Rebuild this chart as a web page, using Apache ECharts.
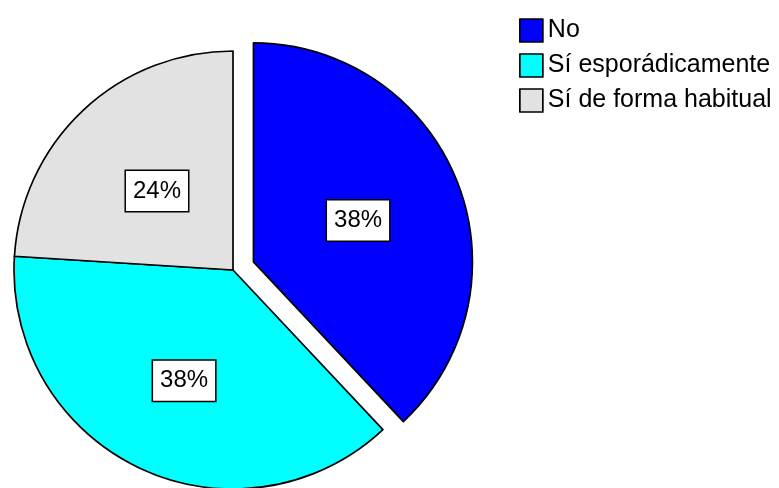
<!DOCTYPE html>
<html>
<head>
<meta charset="utf-8">
<script src="https://cdn.jsdelivr.net/npm/echarts@6/dist/echarts.min.js"></script>
<style>
  html, body { margin: 0; padding: 0; background: #fff; }
  #chart { width: 779px; height: 488px; }
</style>
</head>
<body>
<div id="chart"></div>
<script>
// categorias y porcentajes
const categories = ["No", "Sí esporádicamente", "Sí de forma habitual"];
const values = [38, 38, 24];
const colors = ["#0000ff", "#00ffff", "#e2e2e2"];
const exploded = [true, false, false];
// pequeño ajuste de la etiqueta dentro de cada sector
const labelShift = [[5, 3], [-1, 9], [1, 3]];

const chart = echarts.init(document.getElementById("chart"));

const border = { borderColor: "#000", borderWidth: 1.7 };

let option = {
  animation: false,
  textStyle: { fontFamily: "Liberation Sans, Arial, sans-serif" },
  legend: {
    orient: "vertical",
    left: 514,
    top: 13,
    icon: "rect",
    itemWidth: 23,
    itemHeight: 23,
    itemGap: 10,
    selectedMode: false,
    itemStyle: border,
    textStyle: {
      fontSize: 25,
      lineHeight: 23,
      color: "#000",
      fontFamily: "Liberation Sans, Arial, sans-serif",
    },
    data: categories,
  },
  series: [
    {
      type: "pie",
      center: [233, 270],
      radius: 219,
      startAngle: 90,
      clockwise: true,
      selectedMode: "multiple",
      selectedOffset: 22,
      emphasis: { disabled: true },
      labelLine: { show: false },
      label: {
        show: true,
        position: "inside",
        formatter: (p) => Math.round(p.percent) + "%",
        fontSize: 24,
        lineHeight: 24,
        color: "#000",
        fontFamily: "Liberation Sans, Arial, sans-serif",
        backgroundColor: "#fff",
        borderColor: "#000",
        borderWidth: 1.5,
        padding: [8, 7],
      },
      data: categories.map((name, i) => ({
        name: name,
        value: values[i],
        selected: exploded[i],
        itemStyle: { color: colors[i], ...border },
        select: { itemStyle: { color: colors[i], ...border } },
        label: { offset: labelShift[i] },
      })),
    },
  ],
};

chart.setOption(option);
</script>
</body>
</html>
